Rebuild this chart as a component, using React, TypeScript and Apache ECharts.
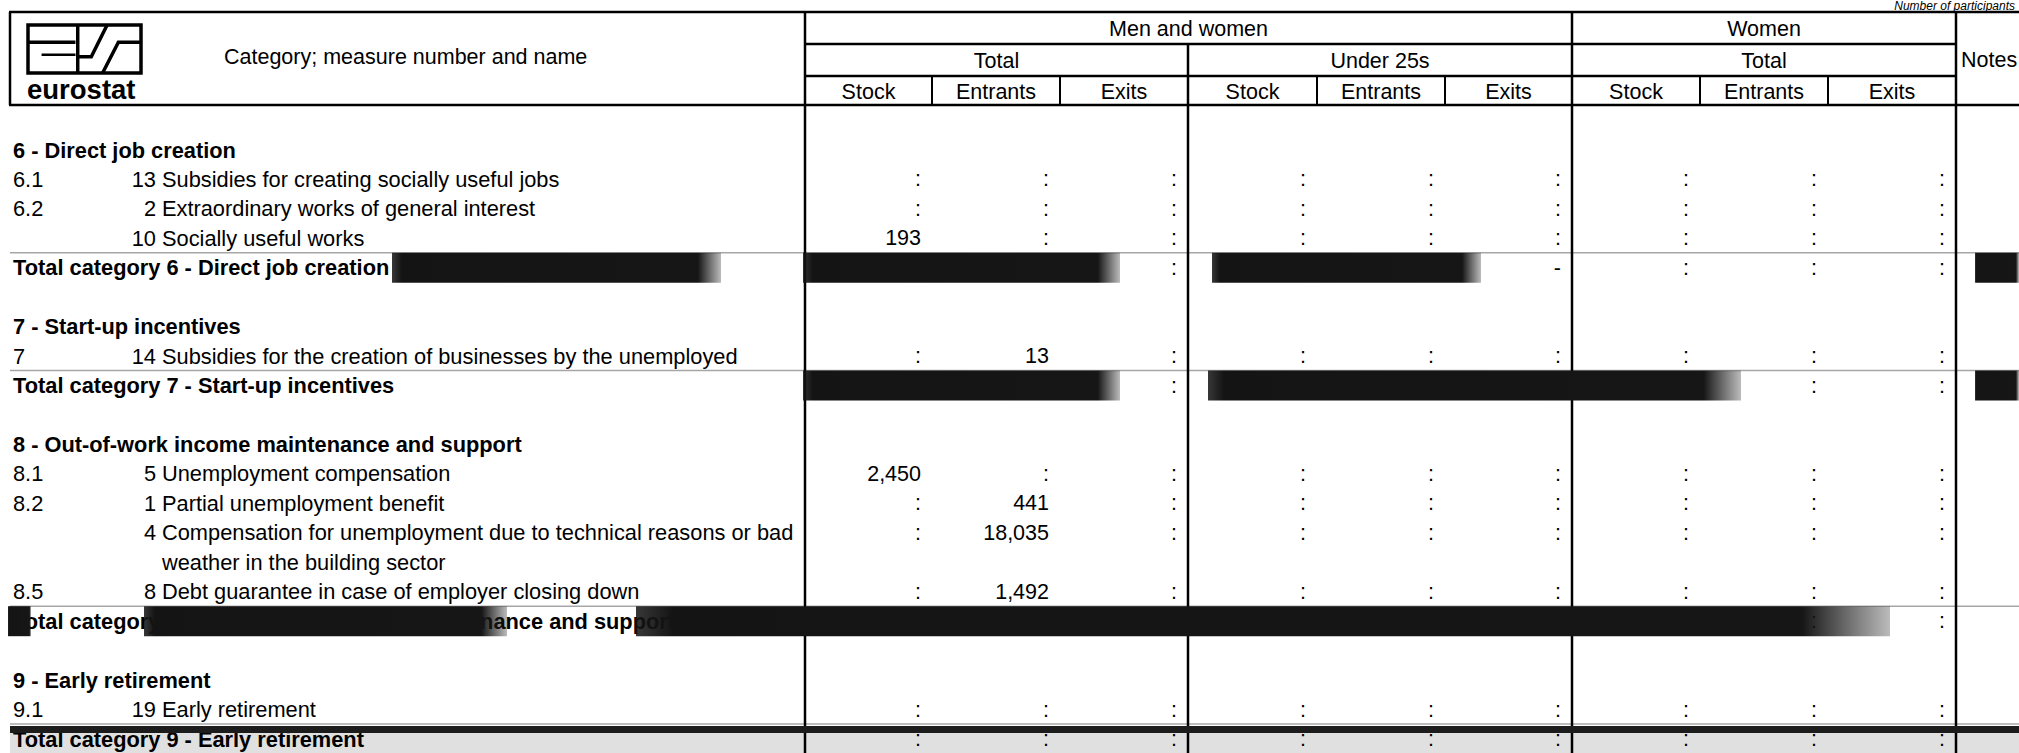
import React, { useEffect, useRef } from "react";
import * as echarts from "echarts";

// ---------- texts ----------
const unitNote = "Number of participants";
const stubHeader = "Category; measure number and name";
const logoWord = "eurostat";
const sexGroups = ["Men and women", "Women"];
const ageGroups = ["Total", "Under 25s", "Total"];
const flowLabels = ["Stock", "Entrants", "Exits"];
const notesLabel = "Notes";

// ---------- rows ----------
const rowKinds = ["cat", "item", "item", "item", "total", "cat", "item", "total", "cat", "item", "item", "item", "item", "total", "cat", "item", "total"];
const rowCodes = ["", "6.1", "6.2", "", "", "", "7", "", "", "8.1", "8.2", "", "8.5", "", "", "9.1", ""];
const rowNumbers = ["", "13", "2", "10", "", "", "14", "", "", "5", "1", "4", "8", "", "", "19", ""];
const rowLabels = [
  "6 - Direct job creation",
  "Subsidies for creating socially useful jobs",
  "Extraordinary works of general interest",
  "Socially useful works",
  "Total category 6 - Direct job creation",
  "7 - Start-up incentives",
  "Subsidies for the creation of businesses by the unemployed",
  "Total category 7 - Start-up incentives",
  "8 - Out-of-work income maintenance and support",
  "Unemployment compensation",
  "Partial unemployment benefit",
  "Compensation for unemployment due to technical reasons or bad\nweather in the building sector",
  "Debt guarantee in case of employer closing down",
  "Total category 8 - Out-of-work income maintenance and support",
  "9 - Early retirement",
  "Early retirement",
  "Total category 9 - Early retirement",
];

// ---------- values (null = no cell on a category title line) ----------
const totalStock = [null, ":", ":", "193", ":", null, ":", ":", null, "2,450", ":", ":", ":", ":", null, ":", ":"];
const totalEntrants = [null, ":", ":", ":", ":", null, "13", ":", null, ":", "441", "18,035", "1,492", ":", null, ":", ":"];
const totalExits = [null, ":", ":", ":", ":", null, ":", ":", null, ":", ":", ":", ":", ":", null, ":", ":"];
const under25Stock = [null, ":", ":", ":", ":", null, ":", ":", null, ":", ":", ":", ":", ":", null, ":", ":"];
const under25Entrants = [null, ":", ":", ":", ":", null, ":", ":", null, ":", ":", ":", ":", ":", null, ":", ":"];
const under25Exits = [null, ":", ":", ":", "-", null, ":", ":", null, ":", ":", ":", ":", ":", null, ":", ":"];
const womenStock = [null, ":", ":", ":", ":", null, ":", ":", null, ":", ":", ":", ":", ":", null, ":", ":"];
const womenEntrants = [null, ":", ":", ":", ":", null, ":", ":", null, ":", ":", ":", ":", ":", null, ":", ":"];
const womenExits = [null, ":", ":", ":", ":", null, ":", ":", null, ":", ":", ":", ":", ":", null, ":", ":"];

const valueColumns = [totalStock, totalEntrants, totalExits, under25Stock, under25Entrants, under25Exits, womenStock, womenEntrants, womenExits];

// ---------- layout ----------
const W = 2019;
const H = 753;
const FONT = "'Liberation Sans', Arial, Helvetica, sans-serif";
const FS = 21.5;
const BODY_FS = 21.8;
const LINE_H = 29.45;
const BODY_TOP = 150;
const STUB_RIGHT = 805;
const COL_EDGES = [805, 932, 1060, 1188, 1317, 1445, 1572, 1700, 1828, 1956];
const HDR_TOP = 12;
const HDR_R1 = 44;
const HDR_R2 = 76;
const HDR_BOT = 105;
const TEXT_X = 13;

// scan-artefact dark bands over the total lines (row index -> x spans)
const scanBands: Record<number, number[][]> = {
  4: [[392, 721], [803, 1120], [1212, 1481], [1975, 2019]],
  7: [[803, 1120], [1208, 1741], [1975, 2019]],
  13: [[8, 31], [144, 507], [636, 1890]],
};

function txt(x: number, y: number, text: string, o: any = {}) {
  const align = o.align || "left";
  return {
    type: "text",
    x,
    y,
    silent: true,
    style: {
      text,
      fill: "#000",
      fontSize: o.size || FS,
      fontFamily: FONT,
      fontWeight: o.bold ? "bold" : "normal",
      fontStyle: o.italic ? "italic" : "normal",
      textAlign: align,
      align,
      textVerticalAlign: "middle",
      verticalAlign: "middle",
    },
  };
}

function ln(x1: number, y1: number, x2: number, y2: number, w = 2, c = "#000") {
  return { type: "line", silent: true, shape: { x1, y1, x2, y2 }, style: { stroke: c, lineWidth: w } };
}

export default function App() {
  const ref = useRef<HTMLDivElement>(null);

  useEffect(() => {
    const el = ref.current!;
    const chart = echarts.init(el, undefined, { renderer: "svg" });

    // line positions derived from the row structure
    const lineIndex: number[] = [];
    let cur = 0;
    rowKinds.forEach((k, i) => {
      if (k === "cat" && i > 0) cur += 1;
      lineIndex.push(cur);
      cur += rowLabels[i].split("\n").length;
    });
    const lastLine = lineIndex[lineIndex.length - 1];

    const seriesData = rowKinds.map((_, i) => [lineIndex[i], i]);

    const bandFill = new echarts.graphic.LinearGradient(0, 0, 1, 0, [
      { offset: 0, color: "rgba(20,20,20,0.85)" },
      { offset: 0.03, color: "#141414" },
      { offset: 0.93, color: "#161616" },
      { offset: 1, color: "rgba(30,30,30,0.3)" },
    ]);

    const renderItem = (params: any, api: any) => {
      const r = api.value(1) as number;
      const line = api.value(0) as number;
      const kind = rowKinds[r];
      const y = api.coord([0, line])[1];
      const children: any[] = [];
      const label = rowLabels[r];
      const o = { size: BODY_FS };

      if (kind === "total") {
        children.push(ln(10, y - 15, W, y - 15, 1.5, "rgba(0,0,0,0.35)"));
      }

      if (kind === "cat" || kind === "total") {
        children.push(txt(api.coord([TEXT_X, line])[0], y, label, { bold: true, size: BODY_FS }));
      } else {
        if (rowCodes[r]) children.push(txt(api.coord([TEXT_X, line])[0], y, rowCodes[r], o));
        if (rowNumbers[r]) children.push(txt(api.coord([156, line])[0], y, rowNumbers[r], { align: "right", size: BODY_FS }));
        label.split("\n").forEach((part, k) => {
          const p = api.coord([162, line + k]);
          children.push(txt(p[0], p[1], part, o));
        });
      }

      if (kind !== "cat") {
        valueColumns.forEach((col, c) => {
          const v = col[r];
          if (v == null) return;
          const p = api.coord([COL_EDGES[c + 1] - 11, line]);
          children.push(txt(p[0], p[1], v, { align: "right", size: FS }));
        });
      }

      const bands = scanBands[r];
      if (bands) {
        bands.forEach(([a, b]) => {
          const xa = api.coord([a, line])[0];
          const xb = api.coord([b, line])[0];
          children.push({
            type: "rect",
            silent: true,
            shape: { x: xa, y: y - 15, width: xb - xa, height: 30 },
            style: { fill: bandFill },
          });
        });
      }
      if (kind === "total" && r === rowKinds.length - 1) {
        children.push({
          type: "rect",
          silent: true,
          shape: { x: 10, y: y - 6, width: W - 10, height: 20 },
          style: { fill: "rgba(0,0,0,0.12)" },
        });
        children.push({
          type: "rect",
          silent: true,
          shape: { x: 10, y: y - 13, width: W - 10, height: 7 },
          style: { fill: "#1c1c1c" },
        });
      }
      return { type: "group", children };
    };

    // ---------- header graphics ----------
    const g: any[] = [];
    g.push(txt(2015, 6, unitNote, { align: "right", italic: true, size: 12 }));
    // frame
    g.push(ln(9, HDR_TOP, W, HDR_TOP, 2.5));
    g.push(ln(9, HDR_BOT, W, HDR_BOT, 2.5));
    g.push(ln(10, HDR_TOP, 10, HDR_BOT, 2.5));
    g.push(ln(STUB_RIGHT, HDR_R1, COL_EDGES[9], HDR_R1, 2.5));
    g.push(ln(STUB_RIGHT, HDR_R2, COL_EDGES[9], HDR_R2, 2.5));
    // main verticals through body
    [COL_EDGES[0], COL_EDGES[6], COL_EDGES[9]].forEach((x) => g.push(ln(x, HDR_TOP, x, H, 2.5)));
    g.push(ln(COL_EDGES[3], HDR_R1, COL_EDGES[3], H, 2.5));
    // sub verticals in 3rd header row
    [1, 2, 4, 5, 7, 8].forEach((i) => g.push(ln(COL_EDGES[i], HDR_R2, COL_EDGES[i], HDR_BOT, 2)));

    // header labels
    const r1y = (HDR_TOP + HDR_R1) / 2 + 1;
    const r2y = (HDR_R1 + HDR_R2) / 2 + 1;
    const r3y = (HDR_R2 + HDR_BOT) / 2 + 1;
    g.push(txt((COL_EDGES[0] + COL_EDGES[6]) / 2, r1y, sexGroups[0], { align: "center" }));
    g.push(txt((COL_EDGES[6] + COL_EDGES[9]) / 2, r1y, sexGroups[1], { align: "center" }));
    ageGroups.forEach((a, i) => {
      g.push(txt((COL_EDGES[i * 3] + COL_EDGES[i * 3 + 3]) / 2, r2y, a, { align: "center" }));
    });
    for (let i = 0; i < 9; i++) {
      g.push(txt((COL_EDGES[i] + COL_EDGES[i + 1]) / 2, r3y, flowLabels[i % 3], { align: "center" }));
    }
    g.push(txt(1961, 60, notesLabel));
    g.push(txt(224, 57, stubHeader));

    // eurostat logo
    const LX = 28, LY = 25, LW = 113, LH = 48;
    const stroke = (pts: number[][], w = 3.5) => ({
      type: "polyline",
      silent: true,
      shape: { points: pts.map(([a, b]) => [LX + a * LW, LY + b * LH]) },
      style: { fill: "none", stroke: "#000", lineWidth: w },
    });
    g.push({ type: "rect", silent: true, shape: { x: LX, y: LY, width: LW, height: LH }, style: { fill: "none", stroke: "#000", lineWidth: 3.5 } });
    g.push(stroke([[0, 0.36], [0.42, 0.36]]));
    g.push(stroke([[0.12, 0.62], [0.42, 0.62]], 2.5));
    g.push(stroke([[0.44, 0], [0.44, 1]]));
    g.push(stroke([[0.44, 0.66], [0.56, 0.66], [0.7, 0]]));
    g.push(stroke([[0.66, 1], [0.8, 0.36], [1, 0.36]]));
    g.push(txt(LX - 1, 89, logoWord, { bold: true, size: 27.5 }));

    const option: any = {
      animation: false,
      backgroundColor: "#ffffff",
      grid: { left: 0, right: 0, top: BODY_TOP, bottom: H - BODY_TOP - lastLine * LINE_H, containLabel: false },
      xAxis: { type: "value", min: 0, max: W, show: false },
      yAxis: { type: "value", min: 0, max: lastLine, inverse: true, show: false },
      graphic: { elements: g },
      series: [
        {
          type: "custom",
          renderItem,
          data: seriesData,
          clip: false,
          silent: true,
          encode: { x: -1, y: 0 },
          z: 5,
        },
      ],
    };
    chart.setOption(option);
    return () => chart.dispose();
  }, []);

  return (
    <div
      ref={ref}
      style={{ position: "fixed", left: 0, top: 0, width: W, height: H, background: "#fff" }}
    />
  );
}
